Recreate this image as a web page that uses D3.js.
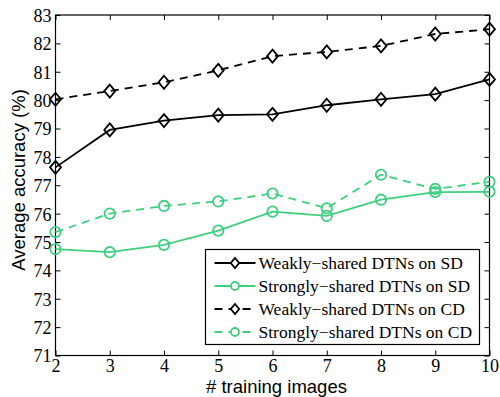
<!DOCTYPE html>
<html>
<head>
<meta charset="utf-8">
<script src="https://cdn.jsdelivr.net/npm/d3@7"></script>
<style>
  body { margin: 0; background: #fff; }
  svg text { fill: #000; }
</style>
</head>
<body>
<div id="chart"></div>
<script>
// number of training images
const trainingImages = [2, 3, 4, 5, 6, 7, 8, 9, 10];

// average accuracy (%) per setting
const weaklySD   = [77.63, 78.95, 79.28, 79.47, 79.50, 79.82, 80.03, 80.21, 80.73];
const stronglySD = [74.75, 74.64, 74.90, 75.40, 76.07, 75.92, 76.49, 76.76, 76.77];
const weaklyCD   = [80.03, 80.32, 80.63, 81.05, 81.55, 81.70, 81.91, 82.33, 82.50];
const stronglyCD = [75.35, 76.00, 76.27, 76.43, 76.71, 76.19, 77.37, 76.87, 77.12];

const seriesNames = [
  'Weakly\u2212shared DTNs on SD',
  'Strongly\u2212shared DTNs on SD',
  'Weakly\u2212shared DTNs on CD',
  'Strongly\u2212shared DTNs on CD'
];
const yTicks = [71, 72, 73, 74, 75, 76, 77, 78, 79, 80, 81, 82, 83];

const green = '#3ecf7e';
const series = [
  { name: seriesNames[0], values: weaklySD,   color: '#000', dash: null,  marker: 'diamond' },
  { name: seriesNames[1], values: stronglySD, color: green,  dash: null,  marker: 'circle' },
  { name: seriesNames[2], values: weaklyCD,   color: '#000', dash: '8,6', marker: 'diamond' },
  { name: seriesNames[3], values: stronglyCD, color: green,  dash: '8,6', marker: 'circle' }
];

const width = 500, height = 397;
const margin = { top: 15, right: 10.5, bottom: 41.5, left: 55.5 };
const iw = width - margin.left - margin.right;
const ih = height - margin.top - margin.bottom;

const svg = d3.select('#chart').append('svg')
  .attr('width', width)
  .attr('height', height);

const g = svg.append('g')
  .attr('transform', `translate(${margin.left},${margin.top})`);

const x = d3.scaleLinear().domain([2, 10]).range([0, iw]);
const y = d3.scaleLinear().domain([71, 83]).range([ih, 0]);

const serif = 'Liberation Serif';
const sans = 'Liberation Sans';

// axes: matlab style box with inward ticks on all sides
const styleAxis = sel => {
  sel.attr('font-family', serif).attr('font-size', 18);
  sel.select('.domain').remove();
  sel.selectAll('.tick line').attr('stroke', '#000').attr('stroke-width', 1);
};

g.append('g')
  .attr('transform', `translate(0,${ih})`)
  .call(d3.axisBottom(x).tickValues(trainingImages).tickFormat(d3.format('d')).tickSizeInner(-5).tickPadding(4))
  .call(styleAxis);

g.append('g')
  .call(d3.axisLeft(y).tickValues(yTicks).tickFormat(d3.format('d')).tickSizeInner(-5).tickPadding(4))
  .call(styleAxis)
  .selectAll('.tick text').attr('dy', '0.36em');

g.append('g')
  .call(d3.axisTop(x).tickValues(trainingImages).tickFormat('').tickSizeInner(-5))
  .call(styleAxis);

g.append('g')
  .attr('transform', `translate(${iw},0)`)
  .call(d3.axisRight(y).tickValues(yTicks).tickFormat('').tickSizeInner(-5))
  .call(styleAxis);

g.append('rect')
  .attr('width', iw).attr('height', ih)
  .attr('fill', 'none').attr('stroke', '#000').attr('stroke-width', 1.2);

// lines and markers
const line = d3.line()
  .x((d, i) => x(trainingImages[i]))
  .y(d => y(d));

const drawMarker = (sel, type, color) => {
  if (type === 'diamond') {
    sel.append('path')
      .attr('d', 'M0,-6.5L5.5,0L0,6.5L-5.5,0Z')
      .attr('fill', 'none').attr('stroke', color).attr('stroke-width', 1.8);
  } else {
    sel.append('circle')
      .attr('r', 5.2)
      .attr('fill', 'none').attr('stroke', color).attr('stroke-width', 1.8);
  }
};

series.forEach(s => {
  g.append('path')
    .datum(s.values)
    .attr('fill', 'none')
    .attr('stroke', s.color)
    .attr('stroke-width', 1.8)
    .attr('stroke-dasharray', s.dash)
    .attr('d', line);

  g.selectAll(null)
    .data(s.values)
    .enter().append('g')
    .attr('transform', (d, i) => `translate(${x(trainingImages[i])},${y(d)})`)
    .each(function() { drawMarker(d3.select(this), s.marker, s.color); });
});

// legend
const lg = svg.append('g').attr('transform', 'translate(205.5,249.5)');
lg.append('rect')
  .attr('width', 274).attr('height', 95)
  .attr('fill', '#fff').attr('stroke', '#000').attr('stroke-width', 1.2);

series.forEach((s, i) => {
  const row = lg.append('g').attr('transform', `translate(0,${13.5 + i * 23})`);
  row.append('line')
    .attr('x1', 9).attr('x2', 50)
    .attr('stroke', s.color).attr('stroke-width', 1.8)
    .attr('stroke-dasharray', s.dash);
  const m = row.append('g').attr('transform', 'translate(29.5,0)');
  if (s.marker === 'diamond') {
    m.append('path').attr('d', 'M0,-5L4.2,0L0,5L-4.2,0Z')
      .attr('fill', '#fff').attr('stroke', s.color).attr('stroke-width', 1.8);
  } else {
    m.append('circle').attr('r', 4)
      .attr('fill', '#fff').attr('stroke', s.color).attr('stroke-width', 1.8);
  }
  row.append('text')
    .attr('x', 53).attr('dy', '0.35em')
    .attr('font-family', serif).attr('font-size', 17.5)
    .text(s.name);
});

// axis titles
svg.append('text')
  .attr('x', 276.5).attr('y', 393)
  .attr('text-anchor', 'middle')
  .attr('font-family', sans).attr('font-size', 18.5)
  .text('# training images');

svg.append('text')
  .attr('transform', 'translate(25,180) rotate(-90)')
  .attr('text-anchor', 'middle')
  .attr('font-family', sans).attr('font-size', 18.5)
  .text('Average accuracy (%)');
</script>
</body>
</html>
